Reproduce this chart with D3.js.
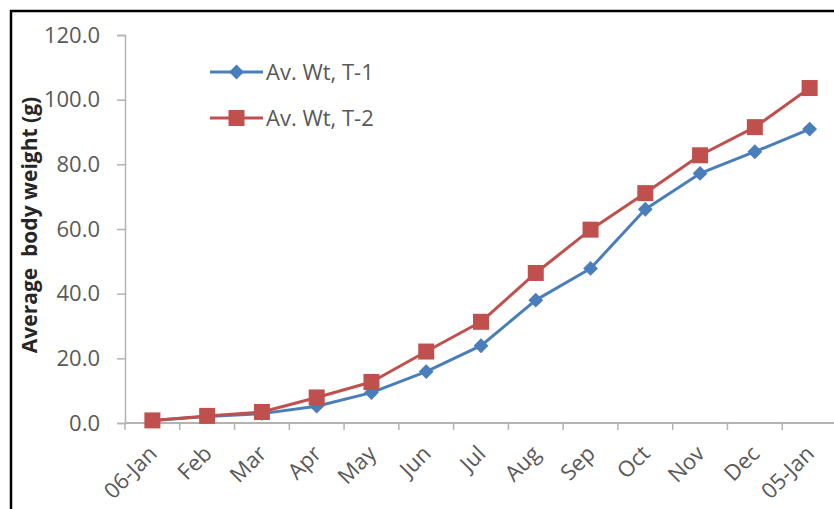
<!DOCTYPE html>
<html>
<head>
<meta charset="utf-8">
<script src="https://cdn.jsdelivr.net/npm/d3@7/dist/d3.min.js"></script>
<style>
  html, body { margin: 0; padding: 0; background: #fff; }
  svg { display: block; }
  text { font-family: "Open Sans", "Liberation Sans", sans-serif; }
</style>
</head>
<body>
<svg id="chart" width="834" height="509"></svg>
<script>
// Monthly sampling points
const months = ["06-Jan", "Feb", "Mar", "Apr", "May", "Jun", "Jul", "Aug", "Sep", "Oct", "Nov", "Dec", "05-Jan"];
// Average body weight (g), treatment 1
const t1 = [0.8, 2.0, 2.9, 5.2, 9.4, 15.9, 23.9, 38.0, 47.8, 66.1, 77.2, 83.9, 90.9];
// Average body weight (g), treatment 2
const t2 = [0.8, 2.2, 3.4, 7.9, 12.7, 22.1, 31.3, 46.4, 59.8, 71.1, 82.8, 91.5, 103.6];
const yTicks = [0, 20, 40, 60, 80, 100, 120];
const seriesNames = ["Av. Wt, T-1", "Av. Wt, T-2"];

const svg = d3.select("#chart");
const W = 834, H = 509;

// Frame lines on the top and left edges
svg.append("line").attr("x1", 10).attr("x2", W).attr("y1", 11).attr("y2", 11)
  .attr("stroke", "#000").attr("stroke-width", 2.5);
svg.append("line").attr("x1", 11).attr("x2", 11).attr("y1", 10).attr("y2", H)
  .attr("stroke", "#000").attr("stroke-width", 2.5);

const plot = { left: 125, right: 837, top: 35, bottom: 423 };

const x = d3.scaleBand().domain(months).range([plot.left, plot.right]).padding(0);
const y = d3.scaleLinear().domain([0, 120]).range([plot.bottom, plot.top]);
const cx = d => x(d) + x.bandwidth() / 2;

const axisColor = "#b3b3b3";
const labelColor = "#595959";

// Y axis
const yAxis = svg.append("g").attr("transform", `translate(${plot.left},0)`)
  .call(d3.axisLeft(y).tickValues(yTicks).tickFormat(d3.format(".1f")).tickSize(8).tickPadding(17));
yAxis.select(".domain").attr("stroke", axisColor).attr("stroke-width", 1.5);
yAxis.selectAll(".tick line").attr("stroke", axisColor).attr("stroke-width", 1.5);
yAxis.selectAll(".tick text").attr("fill", labelColor).attr("font-size", 22)
  .attr("font-family", "'Open Sans', sans-serif");

// X axis with ticks on category boundaries
const xAxisG = svg.append("g").attr("transform", `translate(0,${plot.bottom})`);
xAxisG.append("line").attr("x1", plot.left).attr("x2", plot.right).attr("y1", 0).attr("y2", 0)
  .attr("stroke", axisColor).attr("stroke-width", 2);
xAxisG.selectAll("line.tk").data(months).enter().append("line").attr("class", "tk")
  .attr("x1", d => x(d)).attr("x2", d => x(d)).attr("y1", 0).attr("y2", 7)
  .attr("stroke", axisColor).attr("stroke-width", 1.5);
xAxisG.selectAll("text").data(months).enter().append("text")
  .attr("text-anchor", "end")
  .attr("transform", d => `translate(${cx(d) + 6},${32}) rotate(-45)`)
  .attr("fill", labelColor).attr("font-size", 22)
  .text(d => d);

// Y axis title
svg.append("text")
  .attr("transform", `translate(37,${225}) rotate(-90)`)
  .attr("text-anchor", "middle")
  .attr("font-size", 21).attr("font-weight", "bold").attr("fill", "#262626")
  .attr("xml:space", "preserve")
  .text("Average  body weight (g)");

const colors = ["#4a7ebb", "#c0504d"];
const line = d3.line().x((d, i) => cx(months[i])).y(d => y(d));

function drawMarker(g, type, px, py, color) {
  if (type === 0) {
    g.append("path").attr("d", d3.symbol().type(d3.symbolSquare).size(110)())
      .attr("transform", `translate(${px},${py}) rotate(45)`).attr("fill", color);
  } else {
    g.append("rect").attr("x", px - 8).attr("y", py - 8).attr("width", 16).attr("height", 16)
      .attr("fill", color);
  }
}

[t1, t2].forEach((vals, k) => {
  const g = svg.append("g");
  g.append("path").datum(vals).attr("d", line).attr("fill", "none")
    .attr("stroke", colors[k]).attr("stroke-width", 3).attr("stroke-linejoin", "round");
  vals.forEach((v, i) => drawMarker(g, k, cx(months[i]), y(v), colors[k]));
});

// Legend
const legend = svg.append("g");
seriesNames.forEach((name, k) => {
  const ly = 72 + k * 46;
  legend.append("line").attr("x1", 210).attr("x2", 263).attr("y1", ly).attr("y2", ly)
    .attr("stroke", colors[k]).attr("stroke-width", 3);
  drawMarker(legend, k, 236.5, ly, colors[k]);
  legend.append("text").attr("x", 266).attr("y", ly + 8)
    .attr("font-size", 22).attr("fill", labelColor).text(name);
});
</script>
</body>
</html>
